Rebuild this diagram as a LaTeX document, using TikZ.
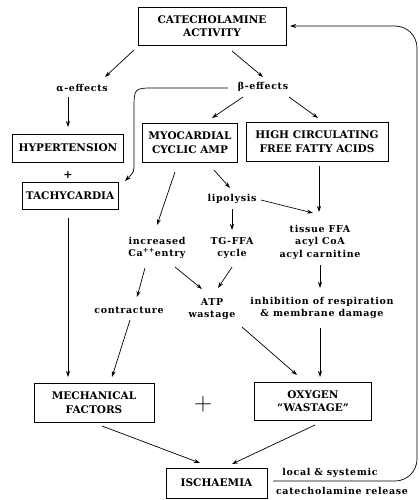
\documentclass[tikz,border=0pt]{standalone}
\usepackage{fontspec}
\setmainfont{DejaVu Serif}
\newfontfamily\lblfont[LetterSpace=7]{DejaVu Serif}
\usetikzlibrary{positioning, arrows.meta, calc}
\tikzset{
  stagebox/.style={draw, line width=0.9pt, align=center, inner sep=2pt,
    font=\bfseries\fontsize{10.5}{13.5}\selectfont},
  effect/.style={align=center, inner sep=1pt, font=\lblfont\bfseries\fontsize{9.5}{12.5}\selectfont},
  arr/.style={-{Stealth[length=6pt, width=4pt]}, line width=0.7pt},
}
\begin{document}
\begin{tikzpicture}[x=1pt, y=-1pt]
  \useasboundingbox (0,0) rectangle (418,500);
  % boxes
  \node[stagebox, minimum width=148pt, minimum height=38pt] (cat) at (212,26) {CATECHOLAMINE\\ACTIVITY};
  \node[stagebox, minimum width=111pt, minimum height=28pt] (hyper) at (68,148) {HYPERTENSION};
  \node[stagebox, minimum width=96pt, minimum height=27pt] (tachy) at (70,196) {TACHYCARDIA};
  \node[stagebox, minimum width=95pt, minimum height=39pt] (camp) at (190,142.5) {MYOCARDIAL\\CYCLIC AMP};
  \node[stagebox, minimum width=142pt, minimum height=39pt] (ffa) at (317,141.5) {HIGH CIRCULATING\\FREE FATTY ACIDS};
  \node[stagebox, minimum width=120pt, minimum height=39pt] (mech) at (94,402.5) {MECHANICAL\\FACTORS};
  \node[stagebox, minimum width=117pt, minimum height=38pt] (oxy) at (313,401) {OXYGEN\\“WASTAGE”};
  \node[stagebox, minimum width=101pt, minimum height=30pt] (isch) at (216.5,483) {ISCHAEMIA};
  % labels
  \node[effect] (alpha) at (82,88) {α-effects};
  \node[effect] (beta) at (263,87) {β-effects};
  \node[effect, font=\bfseries\fontsize{11}{12}\selectfont] (plus1) at (68,175) {+};
  \node[effect] (lipo) at (232,199) {lipolysis};
  \node[effect] (ca) at (157,248) {increased\\Ca\textsuperscript{++}entry};
  \node[effect] (tg) at (232,248) {TG-FFA\\cycle};
  \node[effect] (tissue) at (320,242) {tissue FFA\\acyl CoA\\acyl carnitine};
  \node[effect] (contr) at (129,310) {contracture};
  \node[effect] (atp) at (212,309) {ATP\\wastage};
  \node[effect] (inhib) at (322,308) {inhibition of respiration\\\& membrane damage};
  \node[effect, font=\fontsize{28}{28}\selectfont] (plus2) at (203,404) {$+$};
  \node[effect] (local) at (330,473) {local \& systemic};
  \node[effect] (release) at (342,491) {catecholamine release};
  % arrows
  \draw[arr] ($(cat)+(-78,24)$) -- ($(alpha)+(23,-11)$);
  \draw[arr] ($(cat)+(20,25)$) -- ($(beta)+(0,-10)$);
  \draw[arr] ($(alpha)+(-14,9)$) -- ($(hyper)+(0,-21)$);
  \draw[arr] ($(beta)+(-35,1)$) -- (155,88) .. controls (134,88) .. (134,110)
    -- (134,163) .. controls (134,172) .. ($(tachy)+(55,-15)$);
  \draw[arr] ($(beta)+(-20,10)$) -- ($(camp)+(22,-24.5)$);
  \draw[arr] ($(beta)+(26,10)$) -- ($(ffa)+(1,-23.5)$);
  \draw[arr] ($(camp)+(-15,29.5)$) -- ($(ca)+(0,-23)$);
  \draw[arr] ($(camp)+(24,27.5)$) -- ($(lipo)+(-2,-11)$);
  \draw[arr] ($(lipo)+(0,10)$) -- ($(tg)+(0,-18)$);
  \draw[arr] ($(lipo)+(29,1)$) -- ($(tissue)+(-7,-29)$);
  \draw[arr] ($(ffa)+(2,24.5)$) -- ($(tissue)+(-1,-30)$);
  \draw[arr] ($(tissue)+(0,23)$) -- ($(inhib)+(-2,-20)$);
  \draw[arr] ($(ca)+(-12,20)$) -- ($(contr)+(8,-13)$);
  \draw[arr] ($(ca)+(18,19)$) -- ($(atp)+(-10,-20)$);
  \draw[arr] ($(tg)+(0,19)$) -- ($(atp)+(6,-21)$);
  \draw[arr] ($(atp)+(30,18)$) -- ($(oxy)+(-16,-26)$);
  \draw[arr] ($(inhib)+(-2,20)$) -- ($(oxy)+(7,-24)$);
  \draw[arr] ($(tachy)+(-2,22)$) -- ($(mech)+(-26,-25.5)$);
  \draw[arr] ($(contr)+(1,10)$) -- ($(mech)+(18,-25.5)$);
  \draw[arr] ($(mech)+(8,23.5)$) -- ($(isch)+(-16.5,-20)$);
  \draw[arr] ($(oxy)+(2,24)$) -- ($(isch)+(15.5,-19)$);
  % feedback loop
  \draw[arr, rounded corners=22pt] ($(isch)+(56.5,-2)$) -- (417,481) -- (417,26) -- ($(cat)+(78,0)$);
\end{tikzpicture}
\end{document}
